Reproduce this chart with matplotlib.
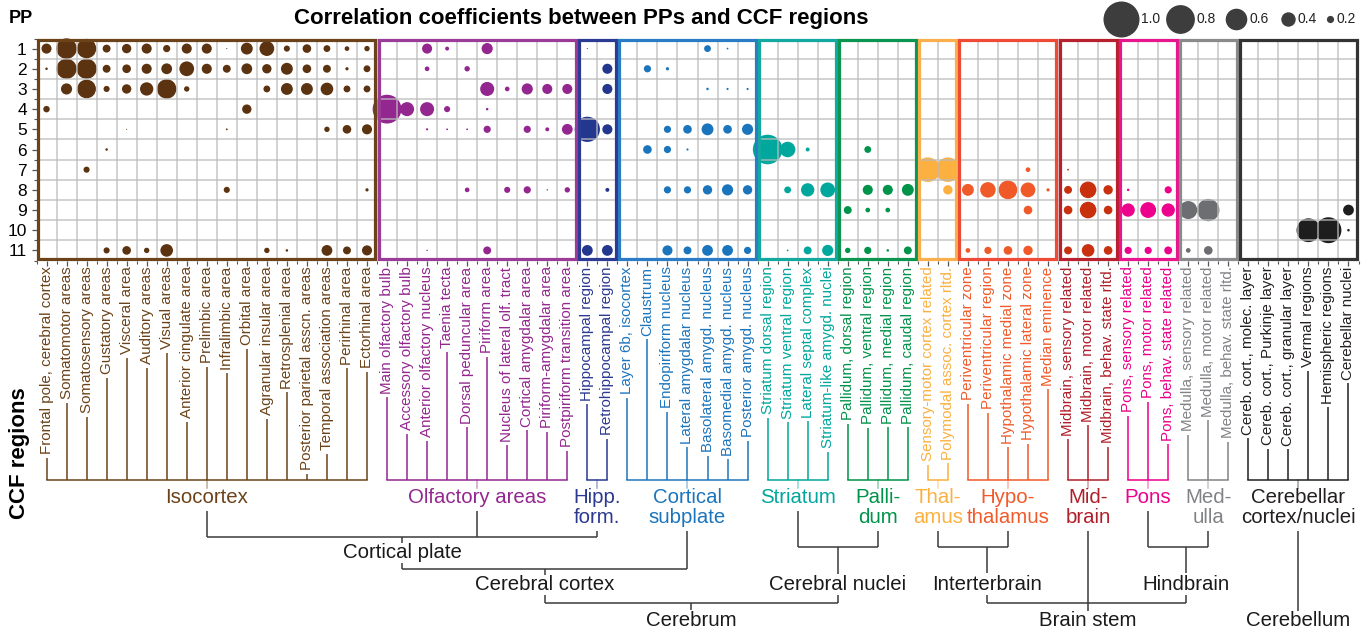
import matplotlib
matplotlib.use('Agg')
import matplotlib.pyplot as plt
import numpy as np
from matplotlib.patches import Rectangle

plt.rcParams['font.family'] = ['Liberation Sans', 'DejaVu Sans']

# ---------------- data ----------------
regions = [
    'Frontal pole, cerebral cortex', 'Somatomotor areas', 'Somatosensory areas', 'Gustatory areas',
    'Visceral area', 'Auditory areas', 'Visual areas', 'Anterior cingulate area', 'Prelimbic area',
    'Infralimbic area', 'Orbital area', 'Agranular insular area', 'Retrosplenial area',
    'Posterior parietal asscn. areas', 'Temporal association areas', 'Perirhinal area', 'Ectorhinal area',
    'Main olfactory bulb', 'Accessory olfactory bulb', 'Anterior olfactory nucleus', 'Taenia tecta',
    'Dorsal peduncular area', 'Piriform area', 'Nucleus of lateral olf. tract', 'Cortical amygdalar area',
    'Piriform-amygdalar area', 'Postpiriform transition area',
    'Hippocampal region', 'Retrohippocampal region',
    'Layer 6b, isocortex', 'Claustrum', 'Endopiriform nucleus', 'Lateral amygdalar nucleus',
    'Basolateral amygd. nucleus', 'Basomedial amygd. nucleus', 'Posterior amygd. nucleus',
    'Striatum dorsal region', 'Striatum ventral region', 'Lateral septal complex', 'Striatum-like amygd. nuclei',
    'Pallidum, dorsal region', 'Pallidum, ventral region', 'Pallidum, medial region', 'Pallidum, caudal region',
    'Sensory-motor cortex related', 'Polymodal assoc. cortex rltd.',
    'Periventricular zone', 'Periventricular region', 'Hypothalamic medial zone', 'Hypothalamic lateral zone',
    'Median eminence',
    'Midbrain, sensory related', 'Midbrain, motor related', 'Midbrain, behav. state rltd.',
    'Pons, sensory related', 'Pons, motor related', 'Pons, behav. state related',
    'Medulla, sensory related', 'Medulla, motor related', 'Medulla, behav. state rltd.',
    'Cereb. cort., molec. layer', 'Cereb. cort., Purkinje layer', 'Cereb. cort., granular layer',
    'Vermal regions', 'Hemispheric regions', 'Cerebellar nuclei']

group_names = ['Isocortex', 'Olfactory areas', 'Hipp.\nform.', 'Cortical\nsubplate', 'Striatum',
               'Palli-\ndum', 'Thal-\namus', 'Hypo-\nthalamus', 'Mid-\nbrain', 'Pons', 'Med-\nulla',
               'Cerebellar\ncortex/nuclei']
group_sizes = [17, 10, 2, 7, 4, 4, 2, 5, 3, 3, 3, 6]

pp_labels = ['1', '2', '3', '4', '5', '6', '7', '8', '9', '10', '11']

# groups:        Isocortex(17) | Olfactory(10) | Hipp(2) | Subplate(7) | Str(4) | Pal(4) | Thal(2) | Hyp(5) | Mid(3) | Pons(3) | Med(3) | Cb(6)
pp1 = [0.28, 0.57, 0.54, 0.22, 0.26, 0.28, 0.20, 0.28, 0.28, 0.03, 0.33, 0.41, 0.17, 0.24, 0.19, 0.13, 0.15,
       0, 0, 0.28, 0.11, 0, 0.31, 0, 0, 0, 0,
       0.03, 0,
       0, 0, 0, 0, 0.19, 0.05, 0,
       0, 0, 0, 0,
       0, 0, 0, 0,
       0, 0,
       0, 0, 0, 0, 0,
       0, 0, 0,
       0, 0, 0,
       0, 0, 0,
       0, 0, 0, 0, 0, 0]
pp2 = [0.07, 0.56, 0.56, 0.22, 0.24, 0.28, 0.30, 0.41, 0.28, 0.22, 0.30, 0.26, 0.33, 0.24, 0.22, 0.09, 0.19,
       0, 0, 0.13, 0, 0.15, 0, 0, 0, 0, 0,
       0, 0.28,
       0, 0.20, 0.09, 0, 0, 0, 0,
       0, 0, 0, 0,
       0, 0, 0, 0,
       0, 0,
       0, 0, 0, 0, 0,
       0, 0, 0,
       0, 0, 0,
       0, 0, 0,
       0, 0, 0, 0, 0, 0]
pp3 = [0, 0.31, 0.52, 0.17, 0.26, 0.37, 0.54, 0.15, 0, 0, 0, 0.19, 0.33, 0.33, 0.35, 0.19, 0.19,
       0, 0, 0, 0, 0, 0.39, 0.13, 0.31, 0.28, 0.28,
       0, 0.28,
       0, 0, 0, 0, 0.07, 0.06, 0.06,
       0, 0, 0, 0,
       0, 0, 0, 0,
       0, 0,
       0, 0, 0, 0, 0,
       0, 0, 0,
       0, 0, 0,
       0, 0, 0,
       0, 0, 0, 0, 0, 0]
pp4 = [0.18, 0, 0, 0, 0, 0, 0, 0, 0, 0, 0.26, 0, 0, 0, 0, 0, 0,
       0.80, 0.39, 0.39, 0.17, 0, 0.07, 0, 0, 0, 0,
       0, 0,
       0, 0, 0, 0, 0, 0, 0,
       0, 0, 0, 0,
       0, 0, 0, 0,
       0, 0,
       0, 0, 0, 0, 0,
       0, 0, 0,
       0, 0, 0,
       0, 0, 0,
       0, 0, 0, 0, 0, 0]
pp5 = [0, 0, 0, 0, 0.03, 0, 0, 0, 0, 0.05, 0, 0, 0, 0, 0.15, 0.24, 0.28,
       0, 0, 0.06, 0.05, 0.05, 0.20, 0, 0.20, 0.11, 0.30,
       0.70, 0.28,
       0, 0, 0.20, 0.24, 0.33, 0.24, 0.31,
       0, 0, 0, 0,
       0, 0, 0, 0,
       0, 0,
       0, 0, 0, 0, 0,
       0, 0, 0,
       0, 0, 0,
       0, 0, 0,
       0, 0, 0, 0, 0, 0]
pp6 = [0, 0, 0, 0.07, 0, 0, 0, 0, 0, 0, 0, 0, 0, 0, 0, 0, 0,
       0, 0, 0, 0, 0, 0, 0, 0, 0, 0,
       0, 0,
       0, 0.24, 0.20, 0.06, 0, 0, 0,
       0.82, 0.43, 0.11, 0,
       0, 0.19, 0, 0,
       0, 0,
       0, 0, 0, 0, 0,
       0, 0, 0,
       0, 0, 0,
       0, 0, 0,
       0, 0, 0, 0, 0, 0]
pp7 = [0, 0, 0.17, 0, 0, 0, 0, 0, 0, 0, 0, 0, 0, 0, 0, 0, 0,
       0, 0, 0, 0, 0, 0, 0, 0, 0, 0,
       0, 0,
       0, 0, 0, 0, 0, 0, 0,
       0, 0, 0, 0,
       0, 0, 0, 0,
       0.68, 0.68,
       0, 0, 0, 0.13, 0,
       0.05, 0, 0,
       0, 0, 0,
       0, 0, 0,
       0, 0, 0, 0, 0, 0]
pp8 = [0, 0, 0, 0, 0, 0, 0, 0, 0, 0.17, 0, 0, 0, 0, 0, 0, 0.09,
       0, 0, 0, 0, 0.13, 0, 0.17, 0.20, 0.04, 0.15,
       0, 0.11,
       0, 0, 0.20, 0.20, 0.26, 0.31, 0.26,
       0, 0.19, 0.37, 0.41,
       0, 0.28, 0.28, 0.33,
       0, 0.26,
       0.33, 0.43, 0.52, 0.41, 0.09,
       0.22, 0.46, 0.26,
       0.07, 0, 0.20,
       0, 0, 0,
       0, 0, 0, 0, 0, 0]
pp9 = [0, 0, 0, 0, 0, 0, 0, 0, 0, 0, 0, 0, 0, 0, 0, 0, 0,
       0, 0, 0, 0, 0, 0, 0, 0, 0, 0,
       0, 0,
       0, 0, 0, 0, 0, 0, 0,
       0, 0, 0, 0,
       0.22, 0.13, 0.13, 0,
       0, 0,
       0, 0, 0, 0.24, 0,
       0.24, 0.46, 0.24,
       0.37, 0.44, 0.37,
       0.50, 0.62, 0,
       0, 0, 0, 0, 0, 0.30]
pp10 = [0, 0, 0, 0, 0, 0, 0, 0, 0, 0, 0, 0, 0, 0, 0, 0, 0,
        0, 0, 0, 0, 0, 0, 0, 0, 0, 0,
        0, 0,
        0, 0, 0, 0, 0, 0, 0,
        0, 0, 0, 0,
        0, 0, 0, 0,
        0, 0,
        0, 0, 0, 0, 0,
        0, 0, 0,
        0, 0, 0,
        0, 0, 0,
        0, 0, 0, 0.66, 0.72, 0.07]
pp11 = [0, 0, 0, 0.17, 0.24, 0.15, 0.35, 0, 0, 0, 0, 0.15, 0.07, 0, 0.30, 0.22, 0.28,
        0, 0, 0.04, 0, 0, 0.22, 0, 0, 0, 0,
        0.30, 0.30,
        0, 0, 0.28, 0.22, 0.30, 0.30, 0.20,
        0, 0.05, 0.22, 0.31,
        0.15, 0.20, 0.07, 0.22,
        0, 0,
        0.13, 0.20, 0.24, 0.26, 0,
        0.22, 0.35, 0.24,
        0.20, 0.20, 0.22,
        0.13, 0.24, 0,
        0, 0, 0, 0, 0, 0]

legend_values = [1.0, 0.8, 0.6, 0.4, 0.2]
legend_labels = ['1.0', '0.8', '0.6', '0.4', '0.2']

# ---------------- styles ----------------
dot_colors = ['#5C3310', '#93278F', '#24378F', '#1B75BC', '#00A79D', '#00934A',
              '#FBB040', '#F05A28', '#C8300E', '#EC008C', '#6D6E71', '#1E1E1E']
box_colors = ['#6B4219', '#9A3B97', '#2B3A92', '#2A7DC4', '#14A9A0', '#0B9550',
              '#F9B04C', '#EE4A36', '#B8202E', '#E8168C', '#8A8A8C', '#333333']
text_colors = ['#6B4219', '#93278F', '#2B3990', '#1C75BC', '#00A79D', '#00934A',
               '#FBB040', '#F15A29', '#B01E2A', '#EC008C', '#808285', '#231F20']

W, H = 1370, 633
fig = plt.figure(figsize=(W / 100, H / 100), dpi=100)
L, R, T, B = 36.5, 1358.5, 38.5, 260.5
ncol, nrow = len(regions), len(pp_labels)
cw = (R - L) / ncol

ax = fig.add_axes([L / W, 1 - B / H, (R - L) / W, (B - T) / H])
ax.set_xlim(0, ncol)
ax.set_ylim(nrow, 0)

ov = fig.add_axes([0, 0, 1, 1], zorder=5)
ov.set_xlim(-L / cw, (W - L) / cw)
ov.set_ylim(H, 0)
ov.axis('off')


def px2x(px):
    return (px - L) / cw


matrix = np.array([pp1, pp2, pp3, pp4, pp5, pp6, pp7, pp8, pp9, pp10, pp11], dtype=float)
col_group = np.repeat(np.arange(len(group_sizes)), group_sizes)
starts = np.concatenate([[0], np.cumsum(group_sizes)[:-1]])

K = 36 * 0.72  # diameter in points for r = 1.0
rows, cols = np.nonzero(matrix)
vals = matrix[rows, cols]
order = np.argsort(-vals)
ax.scatter(cols[order] + 0.5, rows[order] + 0.5, s=(K * vals[order]) ** 2,
           c=[dot_colors[g] for g in col_group[cols[order]]], linewidths=0, zorder=2, clip_on=False)

# grid on top of circles
ax.vlines(np.arange(ncol + 1), 0, nrow, color='#bcbcbc', lw=1.1, alpha=0.85, zorder=3)
ax.hlines(np.arange(nrow + 1), 0, ncol, color='#bcbcbc', lw=1.1, alpha=0.85, zorder=3)

# group boxes
for g, (s, n) in enumerate(zip(starts, group_sizes)):
    ax.add_patch(Rectangle((s + 0.08, 0.08), n - 0.16, nrow - 0.16, fill=False,
                           ec=box_colors[g], lw=2.3, zorder=4, clip_on=False))

for sp in ax.spines.values():
    sp.set_visible(False)
ax.set_xticks(np.arange(ncol) + 0.5)
ax.set_xticklabels([])
ax.set_xticks(np.arange(ncol + 1), minor=True)
ax.set_yticks(np.arange(nrow) + 0.5)
ax.set_yticklabels(pp_labels, fontsize=12.5)
ax.set_yticks(np.arange(nrow + 1), minor=True)
ax.tick_params(which='major', length=3.5, width=0.9, color='#555555', pad=3.5)
ax.tick_params(which='minor', length=2, width=0.8, color='#555555')

# titles
fig.text(581 / W, 1 - 18.5 / H, 'Correlation coefficients between PPs and CCF regions',
         ha='center', va='center', fontsize=16, weight='bold')
fig.text(21 / W, 1 - 18.5 / H, 'PP', ha='center', va='center', fontsize=13, weight='bold')
fig.text(20 / W, 1 - 453 / H, 'CCF regions', ha='center', va='center', rotation=90,
         fontsize=16, weight='bold')

# legend
legend_px = [1121, 1180, 1236, 1288, 1330]
for v, lab, xp in zip(legend_values, legend_labels, legend_px):
    ov.scatter(px2x(xp), 18.5, s=(K * v) ** 2, color='#3d3d3d', linewidths=0, clip_on=False)
    ov.text(px2x(xp + 18 * v + 2.5), 19, lab, ha='left', va='center', fontsize=10, color='#222222')

# column labels
labels = []
for i, name in enumerate(regions):
    g = col_group[i]
    labels.append(ov.text(i + 0.5, 266.5, name, rotation=90, ha='center', va='top',
                          fontsize=10.9, color=text_colors[g]))
fig.canvas.draw()
inv = ov.transData.inverted()

BR = 480
for i, t in enumerate(labels):
    g = col_group[i]
    bb = t.get_window_extent()
    yb = inv.transform((0, bb.y0))[1]
    ov.plot([i + 0.5, i + 0.5], [yb + 3.5, BR], color=text_colors[g], lw=1.1, solid_capstyle='butt')

gx = []
for g, (s, n) in enumerate(zip(starts, group_sizes)):
    x0, x1 = s + 0.5, s + n - 0.5
    xc = s + n / 2
    gx.append(xc)
    ov.plot([x0, x1], [BR, BR], color=text_colors[g], lw=1.1, solid_capstyle='projecting')
    ov.plot([xc, xc], [BR, 488], color=text_colors[g], lw=1.1, alpha=0.45)
    ov.text(xc, 488, group_names[g], ha='center', va='top', fontsize=14.7,
            color=text_colors[g], linespacing=1.05)

LC = '#3a3a3a'
FS = 14.7


def seg(x0, y0, x1, y1, c=LC):
    ov.plot([x0, x1], [y0, y1], color=c, lw=1.1, solid_capstyle='butt')


def name_bottom(g):
    return 531 if '\n' in group_names[g] else 511


def bracket(xa, ya, xb, yb, yh):
    seg(xa, ya, xa, yh)
    seg(xb, yb, xb, yh)
    seg(xa, yh, xb, yh)


def label(x, y, s):
    ov.text(x, y, s, ha='center', va='center', fontsize=FS, color='#1a1a1a')


# Cortical plate
iso, olf, hip, sub, stri, pal, tha, hyp, mid, pons, med, cb = gx
seg(olf, name_bottom(1), olf, 537)
bracket(iso, name_bottom(0), hip, name_bottom(2), 537)
cp = (iso + hip) / 2
seg(cp, 537, cp, 543)
label(cp, 553, 'Cortical plate')
# Cerebral cortex
bracket(cp, 563, sub, name_bottom(3), 569)
cc = (cp + sub) / 2
seg(cc, 569, cc, 575)
label(cc, 585, 'Cerebral cortex')
# Cerebral nuclei
bracket(stri, name_bottom(4), pal, name_bottom(5), 547)
cn = (stri + pal) / 2
seg(cn, 547, cn, 574)
label(cn, 585, 'Cerebral nuclei')
# Cerebrum
bracket(cc, 595, cn, 595, 603)
cr = (cc + cn) / 2
seg(cr, 603, cr, 610)
label(cr, 621, 'Cerebrum')
# Interbrain
bracket(tha, name_bottom(6), hyp, name_bottom(7), 547)
ib = px2x(987)
seg(ib, 547, ib, 573)
label(ib, 584, 'Interterbrain')
# Hindbrain
bracket(pons, name_bottom(9), med, name_bottom(10), 547)
hb = px2x(1186)
seg(hb, 547, hb, 573)
label(hb, 584, 'Hindbrain')
# Brain stem
bracket(ib, 595, hb, 595, 603)
seg(mid, name_bottom(8), mid, 611)
label(mid, 621, 'Brain stem')
# Cerebellum
seg(cb, name_bottom(11), cb, 611)
label(cb, 621, 'Cerebellum')

fig.savefig('out.png', dpi=100)
